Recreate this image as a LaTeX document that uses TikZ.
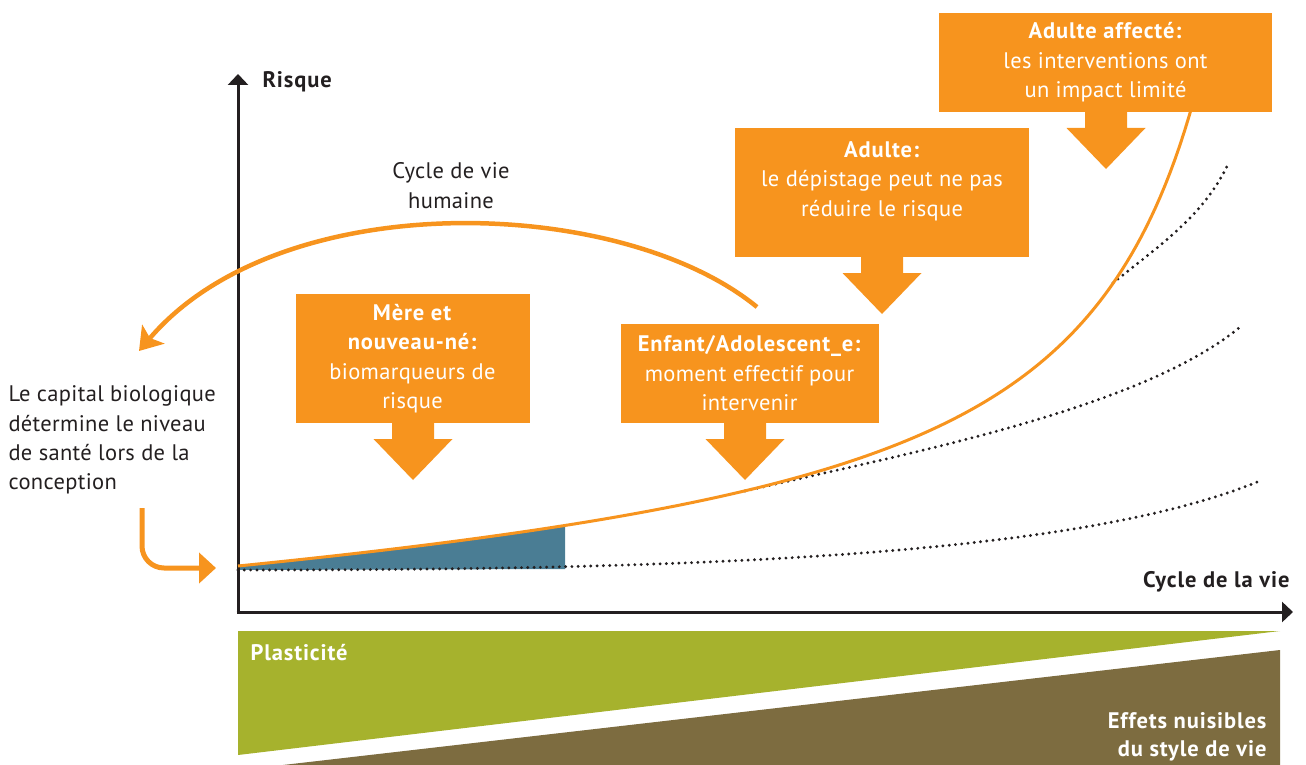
\documentclass[tikz,border=0pt]{standalone}
\usepackage{fontspec}
\setmainfont{PT Sans}[LetterSpace=1.5, BoldFeatures={LetterSpace=4}]
\usetikzlibrary{arrows.meta}
\definecolor{org}{HTML}{F7941E}
\definecolor{ink}{HTML}{231F20}
\definecolor{steel}{HTML}{4A7D94}
\definecolor{olive}{HTML}{A6B22D}
\definecolor{mud}{HTML}{7D6C40}
\tikzset{
  axisline/.style={draw=ink, line width=3pt, -{Triangle[length=11pt,width=20pt]}},
  curveline/.style={draw=org, line width=3pt},
  dotline/.style={draw=ink, line width=3.2pt, dash pattern=on 0pt off 6.3pt, line cap=round},
  obox/.style={fill=org, inner sep=0pt, text=white, align=center, font=\fontsize{22.5}{29.5}\selectfont},
  otext/.style={text=white, align=center, font=\fontsize{22.5}{29.5}\selectfont},
  plain/.style={text=ink, font=\fontsize{22.5}{29.3}\selectfont},
  boldlabel/.style={text=ink, font=\fontsize{22.5}{24}\selectfont\bfseries},
  pics/blockdown/.style={code={\fill[org] (-21,-1) -- (21,-1) -- (21,16) -- (39.5,16) -- (0,57) -- (-39.5,16) -- (-21,16) -- cycle;}},
  declare function={risk(\t)=626.28 - 658.3/(13.3-\t/100) - 0.0452*(\t-238);}
}
\begin{document}
\begin{tikzpicture}[x=1pt,y=-1pt]
\useasboundingbox (0,0) rectangle (1306,765);
% bottom bands
\fill[olive] (238,631) -- (1280,631) -- (238,755) -- cycle;
\fill[mud] (283,765) -- (1280,650) -- (1280,765) -- cycle;
\node[anchor=west, text=white, font=\fontsize{22.5}{24}\selectfont\bfseries] (plast) at (247,653) {Plasticité};
\node[anchor=east, text=white, align=right, font=\fontsize{22.5}{28}\selectfont\bfseries] (effets) at (1270,737) {Effets nuisibles\\du style de vie};
% blue region
\fill[steel] plot[domain=238:565, samples=60] (\x,{risk(\x)}) -- (565,569) -- (238,570) -- cycle;
% dotted curves
\coordinate (d0) at (238,570);
\coordinate (d1) at (1262,480);
\coordinate (m0) at (745,491);
\coordinate (m1) at (1240,327);
\coordinate (u0) at (1113,283);
\coordinate (u1) at (1229,162);
\draw[dotline] (d0) .. controls (700,570) and (1080,556) .. (d1);
\draw[dotline] (m0) .. controls (900,455) and (1140,410) .. (m1);
\draw[dotline] (u0) .. controls (1160,245) and (1205,215) .. (u1);
% axes
\coordinate (O) at (238,612);
\coordinate (ytop) at (238,74);
\coordinate (xend) at (1293,612);
\draw[axisline] (O) -- (ytop);
\draw[axisline] ([xshift=-1.5pt]O) -- (xend);
\node[boldlabel, anchor=west] (risque) at (259,82) {Risque};
\node[boldlabel, anchor=east] (cyclevie) at (1293,582) {Cycle de la vie};
% orange curve
\draw[curveline] plot[domain=238:1194, samples=200] (\x,{risk(\x)});
% boxes
\node[obox, minimum width=234pt, minimum height=129pt] (mere) at (412.5,358.5) {\textbf{Mère et}\\\textbf{nouveau-né:}\\biomarqueurs de\\risque};
\pic at (413,423) {blockdown};
\node[obox, minimum width=258pt, minimum height=99pt] (enfant) at (749.5,373.5) {\textbf{Enfant/Adolescent\_e:}\\moment effectif pour\\intervenir};
\pic at (745,423) {blockdown};
\node[fill=org, minimum width=294pt, minimum height=129pt, inner sep=0pt] (adulte) at (882,192.5) {};
\node[otext] (adultetxt) at (882,181) {\textbf{Adulte:}\\le dépistage peut ne pas\\réduire le risque};
\pic at (882,257) {blockdown};
\node[obox, minimum width=333pt, minimum height=99pt] (affecte) at (1105.5,62.5) {\textbf{Adulte affecté:}\\les interventions ont\\un impact limité};
\pic at (1106,112) {blockdown};
% life cycle arc
\node[plain, align=center] (cyclehum) at (451,185.5) {Cycle de vie\\humaine};
\coordinate (arcstart) at (757,307);
\coordinate (arcend) at (139,351);
\draw[org, line width=4.5pt, -{Stealth[length=22pt,width=29pt,inset=5pt]}] (arcstart) .. controls (620,195) and (280,185) .. (arcend);
% left text and hook arrow
\node[plain, align=left, anchor=west] (capital) at (5,440) {Le capital biologique\\détermine le niveau\\de santé lors de la\\conception};
\coordinate (hook0) at (142,508);
\coordinate (hook1) at (216,568);
\draw[org, line width=5pt, rounded corners=22pt, -{Triangle[length=17pt,width=30pt]}] (hook0) |- (hook1);
\end{tikzpicture}
\end{document}
